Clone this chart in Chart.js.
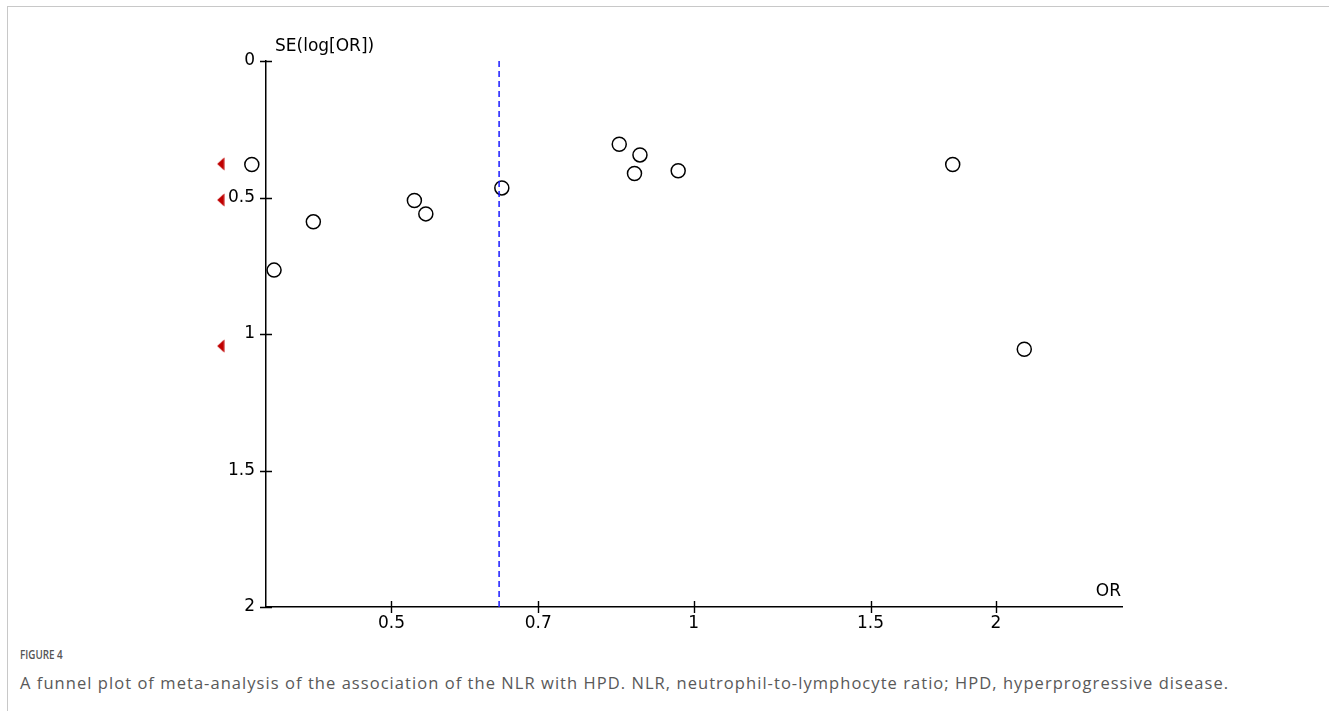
<!DOCTYPE html>
<html>
<head>
<meta charset="utf-8">
<script src="https://cdn.jsdelivr.net/npm/chart.js@4.4.1/dist/chart.umd.min.js"></script>
<style>
  html, body { margin: 0; padding: 0; background: #fff; }
  .frame {
    position: absolute; left: 7px; top: 6px; width: 1322px; height: 704px;
    border-left: 1px solid #c8c8c8; border-top: 1px solid #c8c8c8;
  }
  .chartBox { position: absolute; left: 0; top: 0; width: 1329px; height: 640px; }
  .figLabel {
    position: absolute; left: 20px; top: 646px; transform: scaleX(0.82); transform-origin: left center;
    font-family: "Open Sans", sans-serif; font-size: 12px; font-weight: 600; color: #555;
  }
  .caption {
    position: absolute; left: 20px; top: 671px; white-space: nowrap; letter-spacing: 1.05px;
    font-family: "Open Sans", sans-serif; font-size: 16.5px; color: #595959;
  }
</style>
</head>
<body>
<div class="frame"></div>
<div class="chartBox"><canvas id="funnel"></canvas></div>
<div class="figLabel">FIGURE 4</div>
<div class="caption">A funnel plot of meta-analysis of the association of the NLR with HPD. NLR, neutrophil-to-lymphocyte ratio; HPD, hyperprogressive disease.</div>

<script>
// axis ticks
const xTicks = [0.5, 0.7, 1, 1.5, 2];
const yTicks = [0, 0.5, 1, 1.5, 2];

// studies (OR, SE of log OR)
const studyOR = [0.363, 0.382, 0.418, 0.527, 0.541, 0.644, 0.843, 0.884, 0.873, 0.965, 1.811, 2.134];
const studySE = [0.379, 0.766, 0.589, 0.511, 0.560, 0.465, 0.305, 0.344, 0.412, 0.402, 0.379, 1.056];

// pooled estimate (dashed line)
const pooledOR = 0.640;

// studies off the left of the scale (red markers)
const offScaleOR = 0.338;
const offScaleSE = [0.377, 0.509, 1.044];

const FONT = '"DejaVu Sans", Verdana, sans-serif';

// narrow left-pointing red triangle
function makeArrow() {
  const c = document.createElement('canvas');
  c.width = 8; c.height = 14;
  const g = c.getContext('2d');
  g.fillStyle = '#c00000';
  g.beginPath();
  g.moveTo(0.5, 7);
  g.lineTo(7.5, 0.5);
  g.lineTo(7.5, 13.5);
  g.closePath();
  g.fill();
  return c;
}

// points lying left of the axis are skipped by Chart.js, draw them here
const outsidePoints = {
  id: 'outsidePoints',
  afterDatasetsDraw(chart) {
    const area = chart.chartArea;
    [1, 2].forEach((i) => {
      chart.getDatasetMeta(i).data.forEach((el) => {
        if (el.x < area.left + 8) el.draw(chart.ctx);
      });
    });
  },
};

// ticks that cross the axis lines + axis titles
const axisDecor = {
  id: 'axisDecor',
  afterDraw(chart) {
    const { ctx, chartArea, scales } = chart;
    ctx.save();
    ctx.strokeStyle = '#000';
    ctx.lineWidth = 1.4;
    ctx.beginPath();
    xTicks.forEach((v) => {
      const px = Math.round(scales.x.getPixelForValue(v)) + 0.5;
      ctx.moveTo(px, chartArea.bottom - 6);
      ctx.lineTo(px, chartArea.bottom + 6);
    });
    yTicks.forEach((v) => {
      const py = Math.round(scales.y.getPixelForValue(v)) + 0.5;
      ctx.moveTo(chartArea.left - 6, py);
      ctx.lineTo(chartArea.left + 6, py);
    });
    ctx.stroke();

    ctx.fillStyle = '#000';
    ctx.font = '17px ' + FONT;
    ctx.textBaseline = 'middle';
    ctx.textAlign = 'left';
    ctx.fillText('SE(log[OR])', chartArea.left + 9, chartArea.top - 14);
    ctx.textAlign = 'right';
    ctx.fillText('OR', chartArea.right - 1, chartArea.bottom - 15);
    ctx.restore();
  },
};

const studies = studyOR.map((x, i) => ({ x, y: studySE[i] }));
const arrows = offScaleSE.map((y) => ({ x: offScaleOR, y }));

new Chart(document.getElementById('funnel'), {
  type: 'scatter',
  data: {
    datasets: [
      {
        label: 'Pooled OR',
        data: [{ x: pooledOR, y: 0 }, { x: pooledOR, y: 2 }],
        showLine: true,
        borderColor: '#1a1aff',
        borderWidth: 1.5,
        borderDash: [6, 4],
        pointRadius: 0,
      },
      {
        label: 'Studies',
        data: studies,
        pointRadius: 7,
        pointBorderWidth: 1.5,
        pointBorderColor: '#000',
        pointBackgroundColor: 'rgba(255,255,255,0)',
        clip: false,
      },
      {
        label: 'Off scale',
        data: arrows,
        pointStyle: makeArrow(),
        clip: false,
      },
    ],
  },
  options: {
    responsive: true,
    maintainAspectRatio: false,
    animation: false,
    events: [],
    layout: { padding: { left: 206, right: 207, top: 61, bottom: 3 } },
    plugins: { legend: { display: false }, tooltip: { enabled: false } },
    scales: {
      x: {
        type: 'logarithmic',
        min: 0.375,
        max: 2.67,
        afterBuildTicks: (s) => { s.ticks = xTicks.map((v) => ({ value: v })); },
        afterFit: (s) => { s.height = 30; },
        grid: { display: false, drawTicks: false },
        border: { color: '#000', width: 1.5 },
        ticks: {
          callback: (v) => String(v),
          color: '#000',
          font: { family: FONT, size: 17 },
          padding: 6,
          autoSkip: false,
          maxRotation: 0,
        },
      },
      y: {
        reverse: true,
        min: 0,
        max: 2,
        afterBuildTicks: (s) => { s.ticks = yTicks.map((v) => ({ value: v })); },
        afterFit: (s) => { s.width = 60; },
        grid: { display: false, drawTicks: false },
        border: { color: '#000', width: 1.5 },
        ticks: {
          callback: (v) => String(v),
          color: '#000',
          font: { family: FONT, size: 17 },
          padding: 11,
        },
      },
    },
  },
  plugins: [outsidePoints, axisDecor],
});
</script>
</body>
</html>
